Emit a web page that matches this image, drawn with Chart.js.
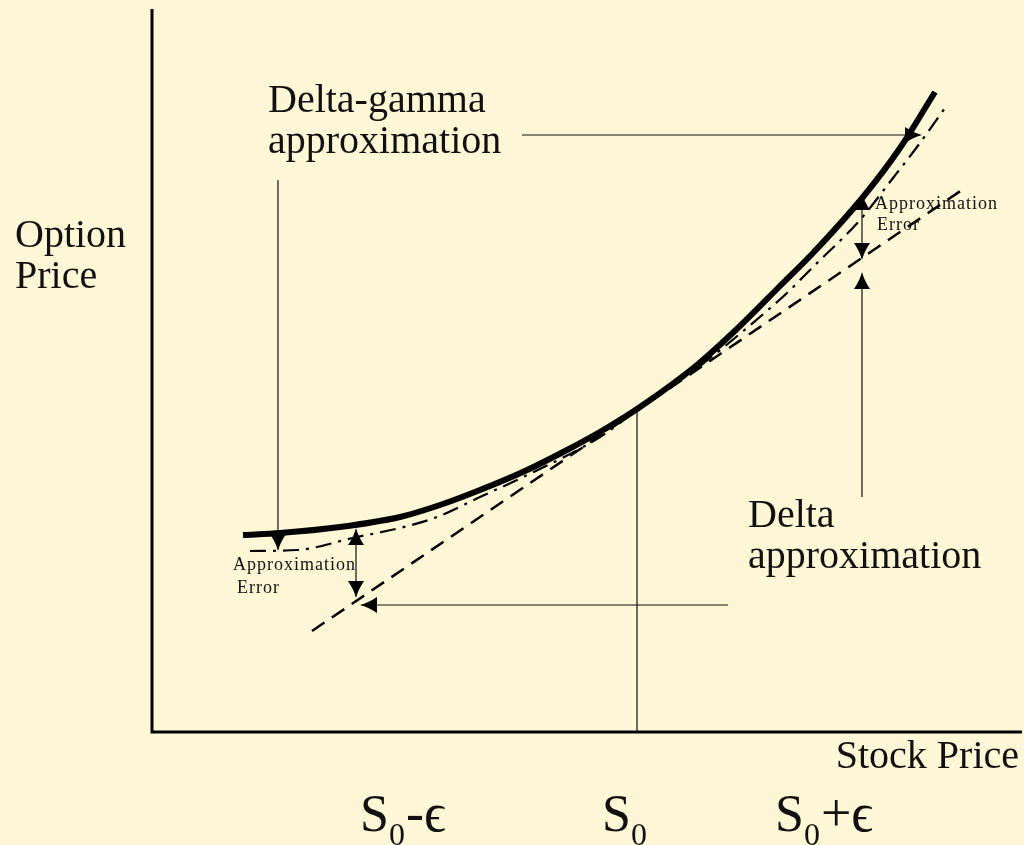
<!DOCTYPE html>
<html>
<head>
<meta charset="utf-8">
<script src="https://cdn.jsdelivr.net/npm/chart.js@4.4.1/dist/chart.umd.min.js"></script>
<style>
  body { margin: 0; background: #fff7d6; }
  canvas { display: block; }
</style>
</head>
<body>
<canvas id="chart" width="1024" height="845"></canvas>
<script>
// option price curve (stock price, option price)
const stockPrice = [91, 128, 188, 248, 288, 328, 373, 415, 453, 488, 545, 588, 628, 661, 711, 748, 783];
const optionPrice = [197, 199, 205, 215, 227, 242, 261, 282, 303, 325, 367, 406, 446, 479, 535, 584, 640];

// delta approximation (straight tangent)
const deltaX = [160, 810];
const deltaY = [101, 542];

// delta-gamma approximation
const gammaX = [98, 145, 205, 248, 285, 328, 365, 448, 488, 548, 596, 635, 661, 708, 741, 765, 793];
const gammaY = [181, 182, 195, 204, 215, 235, 252, 295, 324, 366, 405, 439, 465, 512, 554, 585, 624];

// leader lines [x1, y1, x2, y2]
const leaders = [
  [126, 552, 126, 183],   // delta-gamma label, left
  [370, 597, 768, 597],   // delta-gamma label, right
  [204, 202, 204, 136],   // left approximation error
  [576, 127, 210, 127],   // delta label, left
  [710, 537, 710, 474],   // right approximation error
  [710, 235, 710, 458],   // delta label, right
  [485, 323, 485, 0]      // S0
];

// arrow tips [x, y, direction]
const arrows = [
  [126, 181, 'down'],
  [770, 597, 'right'],
  [204, 204, 'up'],
  [204, 134, 'down'],
  [208, 127, 'left'],
  [710, 539, 'up'],
  [710, 472, 'down'],
  [710, 460, 'up']
];

// x tick labels: [main, subscript, rest]
const tickValues = [208, 450, 623];
const tickLabels = [['S', '0', '-\u03F5'], ['S', '0', ''], ['S', '0', '+\u03F5']];

const toPoints = (xs, ys) => xs.map((x, i) => ({x: x, y: ys[i]}));

const datasets = leaders.map(l => ({
  data: [{x: l[0], y: l[1]}, {x: l[2], y: l[3]}],
  showLine: true,
  borderColor: '#111',
  borderWidth: 1.2,
  pointRadius: 0
}));

datasets.push({
  data: toPoints(deltaX, deltaY),
  showLine: true,
  borderColor: '#000',
  borderWidth: 2.5,
  borderDash: [15, 9],
  pointRadius: 0
});
datasets.push({
  data: toPoints(gammaX, gammaY),
  showLine: true,
  borderColor: '#000',
  borderWidth: 2.2,
  borderDash: [16, 7, 3, 7],
  pointRadius: 0,
  cubicInterpolationMode: 'monotone'
});
datasets.push({
  data: toPoints(stockPrice, optionPrice),
  showLine: true,
  borderColor: '#000',
  borderWidth: 6,
  pointRadius: 0,
  cubicInterpolationMode: 'monotone'
});

const decor = {
  id: 'decor',
  beforeDraw(chart) {
    const ctx = chart.ctx;
    ctx.save();
    ctx.fillStyle = '#fff7d6';
    ctx.fillRect(0, 0, chart.width, chart.height);
    ctx.restore();
  },
  afterDraw(chart) {
    const ctx = chart.ctx;
    const a = chart.chartArea;
    const xs = chart.scales.x, ys = chart.scales.y;
    ctx.save();

    // axes
    ctx.strokeStyle = '#000';
    ctx.lineWidth = 3;
    ctx.beginPath();
    ctx.moveTo(a.left, a.top);
    ctx.lineTo(a.left, a.bottom);
    ctx.lineTo(a.right, a.bottom);
    ctx.stroke();

    // arrowheads
    ctx.fillStyle = '#000';
    const ang = {up: -Math.PI / 2, down: Math.PI / 2, left: Math.PI, right: 0};
    arrows.forEach(([x, y, d]) => {
      const px = xs.getPixelForValue(x), py = ys.getPixelForValue(y);
      ctx.save();
      ctx.translate(px, py);
      ctx.rotate(ang[d]);
      ctx.beginPath();
      ctx.moveTo(0, 0);
      ctx.quadraticCurveTo(-8, -2, -17, -8);
      ctx.lineTo(-17, 8);
      ctx.quadraticCurveTo(-8, 2, 0, 0);
      ctx.fill();
      ctx.restore();
    });

    // texts
    ctx.fillStyle = '#111';
    ctx.textBaseline = 'alphabetic';
    ctx.textAlign = 'left';
    ctx.font = '40px "Liberation Serif", serif';
    ctx.fillText('Option', 15, 247);
    ctx.fillText('Price', 15, 288);
    ctx.fillText('Delta-gamma', 268, 112);
    ctx.fillText('approximation', 268, 153);
    ctx.fillText('Delta', 748, 527);
    ctx.fillText('approximation', 748, 568);
    ctx.textAlign = 'right';
    ctx.fillText('Stock Price', 1019, 768);

    ctx.textAlign = 'left';
    ctx.font = '18px "Liberation Serif", serif';
    ctx.letterSpacing = '1px';
    ctx.fillText('Approximation', 233, 570);
    ctx.fillText('Error', 237, 593);
    ctx.fillText('Approximation', 875, 209);
    ctx.fillText('Error', 877, 230);
    ctx.letterSpacing = '0px';

    // x tick labels
    tickValues.forEach((v, i) => {
      const [s, sub, rest] = tickLabels[i];
      let px = xs.getPixelForValue(v);
      const base = 831;
      ctx.font = '52px "Liberation Serif", serif';
      ctx.fillText(s, px, base);
      px += ctx.measureText(s).width;
      ctx.font = '32px "Liberation Serif", serif';
      ctx.fillText(sub, px, base + 14);
      px += ctx.measureText(sub).width + 1;
      ctx.font = '54px "Liberation Serif", "DejaVu Serif", serif';
      ctx.fillText(rest, px, base);
    });
    ctx.restore();
  }
};

const chart = new Chart(document.getElementById('chart'), {
  type: 'scatter',
  data: {datasets: datasets},
  options: {
    responsive: false,
    animation: false,
    layout: {padding: {left: 152, right: 2, top: 9, bottom: 113}},
    plugins: {legend: {display: false}, tooltip: {enabled: false}},
    scales: {
      x: {type: 'linear', display: false, min: 0, max: 870},
      y: {type: 'linear', display: false, min: 0, max: 723}
    }
  },
  plugins: [decor]
});
</script>
</body>
</html>
